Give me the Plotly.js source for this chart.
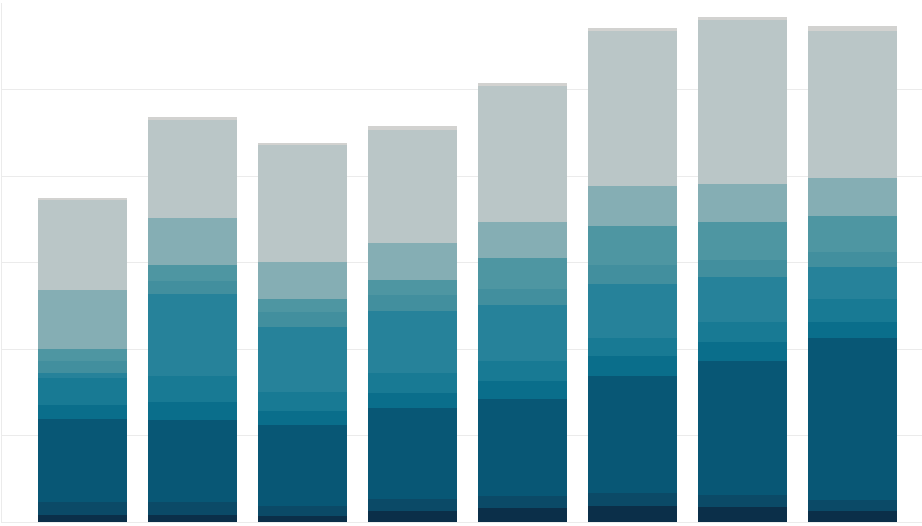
<!DOCTYPE html>
<html>
<head>
<meta charset="utf-8">
<script src="https://cdn.plot.ly/plotly-3.0.1.min.js"></script>
<style>
  html, body { margin: 0; padding: 0; background: white; }
  #chart { width: 922px; height: 526px; }
</style>
</head>
<body>
<div id="chart"></div>
<script>
// Categories (8 bars, no labels shown)
const categories = [0, 1, 2, 3, 4, 5, 6, 7];

// Stack segments, bottom to top
const s1 = [0.81, 0.85, 0.69, 1.27, 1.62, 1.85, 1.78, 1.24];
const s2 = [1.47, 1.46, 1.16, 1.39, 1.39, 1.54, 1.36, 1.32];
const s3 = [9.63, 9.52, 9.36, 10.48, 11.18, 13.49, 15.47, 18.69];
const s4 = [1.62, 2.04, 1.62, 1.77, 2.12, 2.27, 2.21, 1.91];
const s5 = [3.08, 3.0, 2.23, 2.31, 2.35, 2.08, 2.25, 2.6];
const s6 = [0.58, 9.44, 7.51, 7.17, 6.44, 6.28, 5.2, 3.68];
const s7 = [1.42, 1.58, 1.7, 1.85, 1.85, 2.23, 2.01, 1.79];
const s8 = [1.35, 1.81, 1.54, 1.77, 3.55, 4.51, 4.46, 4.1];
const s9 = [6.85, 5.43, 4.2, 4.2, 4.2, 4.62, 4.38, 4.43];
const s10 = [10.4, 11.4, 13.56, 13.1, 15.72, 17.88, 18.86, 17.06];
const s11 = [0.2, 0.25, 0.3, 0.46, 0.31, 0.35, 0.38, 0.54];

const series = [s1, s2, s3, s4, s5, s6, s7, s8, s9, s10, s11];
const colors = ['#0b2f49', '#0b4a67', '#085775', '#0a6e8b', '#187a94', '#26829a',
                '#428f9e', '#4e96a2', '#85aeb4', '#bac6c7', '#d2d2d0'];

const traces = series.map((vals, i) => ({
  x: categories,
  y: vals,
  type: 'bar',
  marker: { color: colors[i], line: { width: 0 } },
  showlegend: false,
  hoverinfo: 'skip'
}));

Plotly.newPlot('chart', traces, {
  barmode: 'stack',
  bargap: 0.19,
  width: 922,
  height: 526,
  margin: { t: 3, r: 0, b: 4, l: 2 },
  paper_bgcolor: 'white',
  plot_bgcolor: 'white',
  xaxis: {
    range: [-0.73, 7.63],
    showticklabels: false,
    ticks: '',
    showgrid: false,
    zeroline: false,
    showline: true,
    linecolor: '#ebebeb',
    linewidth: 1,
    mirror: false
  },
  yaxis: {
    range: [0, 60],
    dtick: 10,
    showticklabels: false,
    ticks: '',
    gridcolor: '#ebebeb',
    gridwidth: 1,
    zeroline: false,
    showline: true,
    linecolor: '#ebebeb',
    linewidth: 1
  }
}, { displayModeBar: false, staticPlot: true });
</script>
</body>
</html>
